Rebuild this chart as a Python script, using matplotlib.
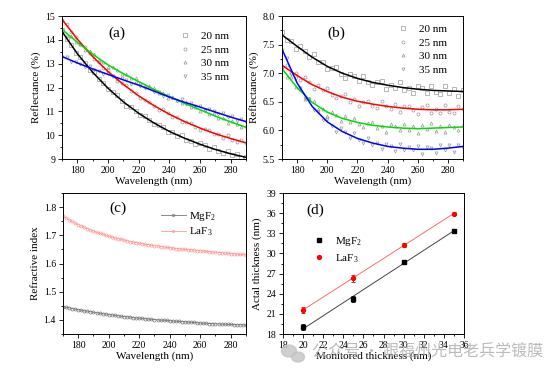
import matplotlib as mpl
mpl.use('Agg')
import matplotlib.pyplot as plt
from matplotlib.lines import Line2D
from matplotlib.patches import Ellipse
from matplotlib.ticker import MultipleLocator
import numpy as np

plt.rcParams['font.family'] = ['Liberation Serif', 'DejaVu Serif']
plt.rcParams['mathtext.fontset'] = 'custom'
plt.rcParams['mathtext.rm'] = 'Liberation Serif'
plt.rcParams['mathtext.default'] = 'regular'

# ---- data ----
wl_fit = [170, 180, 190, 200, 210, 220, 230, 240, 250, 260, 270, 280, 290]
wl_meas = np.arange(170, 291, 3)      # measured points, every 3 nm
wl_n = np.arange(170, 291, 2)         # refractive index points, every 2 nm
thick_labels = ['20 nm', '25 nm', '30 nm', '35 nm']
meas_markers = ['s', 'o', '^', 'v']
fit_colors = ['black', '#ff0000', '#00dd00', '#0000ff']

# (a) MgF2 reflectance
a_fit_20 = [14.35, 13.42, 12.64, 11.97, 11.40, 10.92, 10.51, 10.16, 9.87, 9.62, 9.40, 9.22, 9.07]
a_fit_25 = [14.86, 14.03, 13.30, 12.67, 12.13, 11.65, 11.24, 10.88, 10.57, 10.30, 10.06, 9.86, 9.68]
a_fit_30 = [14.44, 13.90, 13.40, 12.95, 12.58, 12.25, 11.92, 11.62, 11.33, 11.07, 10.80, 10.56, 10.33]
a_fit_35 = [13.30, 13.03, 12.78, 12.55, 12.32, 12.10, 11.85, 11.60, 11.38, 11.18, 10.97, 10.76, 10.57]

a_meas_20 = [14.40, 14.03, 13.80, 13.45, 13.30, 13.02, 12.75, 12.63, 12.34, 12.19, 11.92, 11.80, 11.67, 11.43,
             11.24, 11.19, 11.03, 10.84, 10.82, 10.62, 10.46, 10.43, 10.36, 10.13, 10.12, 9.98, 10.00, 9.80,
             9.77, 9.61, 9.67, 9.58, 9.42, 9.49, 9.35, 9.26, 9.34, 9.18, 9.20, 9.04, 9.09]
a_meas_25 = [14.82, 14.66, 14.33, 14.14, 13.82, 13.70, 13.45, 13.18, 13.08, 12.83, 12.74, 12.47, 12.29, 12.20,
             12.09, 11.84, 11.77, 11.54, 11.49, 11.41, 11.21, 11.07, 11.10, 10.91, 10.77, 10.78, 10.56, 10.57,
             10.50, 10.35, 10.22, 10.26, 10.22, 10.03, 10.04, 9.90, 9.99, 9.81, 9.71, 9.78, 9.69]
a_meas_30 = [14.47, 14.22, 14.17, 13.93, 13.84, 13.59, 13.52, 13.40, 13.17, 13.09, 12.88, 12.88, 12.75, 12.57,
             12.57, 12.38, 12.38, 12.21, 12.06, 12.05, 11.97, 11.79, 11.75, 11.57, 11.62, 11.49, 11.34, 11.38,
             11.19, 11.19, 11.00, 11.05, 10.89, 10.92, 10.70, 10.71, 10.53, 10.59, 10.48, 10.34, 10.37]
a_meas_35 = [13.28, 13.26, 13.08, 13.09, 12.99, 12.85, 12.89, 12.72, 12.71, 12.58, 12.60, 12.47, 12.35, 12.38,
             12.31, 12.16, 12.21, 12.06, 11.96, 11.99, 11.82, 11.80, 11.63, 11.68, 11.57, 11.43, 11.51, 11.32,
             11.33, 11.22, 11.24, 11.04, 11.09, 11.01, 10.87, 10.94, 10.77, 10.79, 10.61, 10.66, 10.55]

# (b) LaF3 reflectance
b_fit_20 = [7.67, 7.47, 7.28, 7.12, 7.00, 6.91, 6.84, 6.79, 6.75, 6.72, 6.70, 6.69, 6.68]
b_fit_25 = [7.14, 6.96, 6.80, 6.68, 6.58, 6.51, 6.46, 6.42, 6.39, 6.37, 6.36, 6.36, 6.37]
b_fit_30 = [7.08, 6.75, 6.49, 6.32, 6.21, 6.14, 6.09, 6.06, 6.04, 6.03, 6.04, 6.05, 6.06]
b_fit_35 = [7.42, 6.83, 6.42, 6.15, 5.98, 5.86, 5.78, 5.72, 5.69, 5.67, 5.67, 5.69, 5.72]

b_meas_20 = [7.72, 7.58, 7.57, 7.43, 7.47, 7.38, 7.28, 7.33, 7.20, 7.20, 7.07, 7.09, 7.10, 6.98, 6.92, 6.99,
             6.95, 6.86, 6.95, 6.85, 6.79, 6.85, 6.87, 6.72, 6.80, 6.74, 6.84, 6.71, 6.75, 6.65, 6.77, 6.74,
             6.65, 6.77, 6.68, 6.64, 6.77, 6.66, 6.72, 6.61, 6.70]
b_meas_25 = [7.10, 7.14, 7.01, 7.01, 6.88, 6.93, 6.84, 6.73, 6.79, 6.70, 6.75, 6.62, 6.57, 6.61, 6.63, 6.50,
             6.55, 6.43, 6.50, 6.52, 6.43, 6.39, 6.51, 6.42, 6.37, 6.46, 6.33, 6.42, 6.43, 6.36, 6.29, 6.41,
             6.44, 6.31, 6.38, 6.30, 6.45, 6.33, 6.30, 6.42, 6.38]
b_meas_30 = [7.11, 6.93, 6.94, 6.76, 6.73, 6.55, 6.56, 6.52, 6.37, 6.37, 6.25, 6.32, 6.27, 6.17, 6.25, 6.14,
             6.22, 6.12, 6.06, 6.13, 6.14, 6.04, 6.08, 5.98, 6.12, 6.07, 6.00, 6.12, 6.01, 6.07, 5.96, 6.09,
             6.02, 6.13, 5.99, 6.07, 5.97, 6.10, 6.06, 6.00, 6.10]
b_meas_35 = [7.40, 7.27, 6.99, 6.91, 6.75, 6.56, 6.55, 6.36, 6.32, 6.18, 6.20, 6.08, 5.98, 6.04, 5.98, 5.87,
             5.95, 5.83, 5.78, 5.86, 5.75, 5.78, 5.67, 5.77, 5.72, 5.64, 5.77, 5.65, 5.71, 5.66, 5.73, 5.59,
             5.71, 5.69, 5.61, 5.75, 5.65, 5.74, 5.63, 5.74, 5.70]

# (c) refractive index
n_laf3 = [1.768, 1.761, 1.755, 1.749, 1.743, 1.738, 1.733, 1.728, 1.724, 1.719, 1.715,
          1.711, 1.707, 1.704, 1.700, 1.697, 1.694, 1.691, 1.688, 1.686, 1.683,
          1.681, 1.678, 1.676, 1.674, 1.672, 1.670, 1.668, 1.667, 1.665, 1.663,
          1.662, 1.660, 1.659, 1.657, 1.656, 1.655, 1.653, 1.652, 1.651, 1.650,
          1.649, 1.648, 1.647, 1.646, 1.645, 1.644, 1.643, 1.642, 1.641, 1.640,
          1.639, 1.638, 1.637, 1.636, 1.635, 1.634, 1.633, 1.632, 1.632, 1.631]
n_mgf2 = [1.447, 1.445, 1.443, 1.440, 1.438, 1.436, 1.434, 1.432, 1.431, 1.429, 1.427,
          1.425, 1.424, 1.422, 1.421, 1.419, 1.418, 1.416, 1.415, 1.413, 1.412,
          1.411, 1.410, 1.408, 1.407, 1.406, 1.405, 1.404, 1.403, 1.402, 1.401,
          1.400, 1.399, 1.399, 1.398, 1.397, 1.396, 1.395, 1.395, 1.394, 1.393,
          1.392, 1.392, 1.391, 1.390, 1.389, 1.388, 1.388, 1.387, 1.387, 1.386,
          1.386, 1.385, 1.385, 1.384, 1.384, 1.383, 1.383, 1.383, 1.382, 1.382]

# (d) actual vs monitored thickness
monitored = [20, 25, 30, 35]
actual_mgf2 = [19.0, 23.2, 28.7, 33.4]
err_mgf2 = [0.45, 0.5, 0.3, 0.3]
actual_laf3 = [21.6, 26.3, 31.3, 35.9]
err_laf3 = [0.45, 0.5, 0.3, 0.25]

FS_TICK = 7
FS_LAB = 8
GRAY = '#9a9a9a'


def style(ax):
    ax.tick_params(which='both', direction='out', top=False, right=False,
                   labelsize=FS_TICK, width=0.6, pad=2)
    ax.tick_params(which='major', length=3)
    ax.tick_params(which='minor', length=1.6)
    for s in ax.spines.values():
        s.set_linewidth(0.7)


fig = plt.figure(figsize=(5.56, 3.76), dpi=100)

ax_a = fig.add_axes([0.1115, 0.5771, 0.3309, 0.3803])
ax_b = fig.add_axes([0.5072, 0.5771, 0.3255, 0.3803])
ax_c = fig.add_axes([0.1133, 0.1117, 0.3291, 0.3750])
ax_d = fig.add_axes([0.5090, 0.1117, 0.3255, 0.3750])

# ---- (a) ----
for ys, mk in zip([a_meas_20, a_meas_25, a_meas_30, a_meas_35], meas_markers):
    ax_a.plot(wl_meas, ys, ls='none', marker=mk, ms=2.2, mfc='none', mec=GRAY, mew=0.5)
for ys, c in zip([a_fit_20, a_fit_25, a_fit_30, a_fit_35], fit_colors):
    ax_a.plot(wl_fit, ys, color=c, lw=1.1)
ax_a.set_xlim(170, 290)
ax_a.set_ylim(9, 15)
ax_a.xaxis.set_major_locator(MultipleLocator(20))
ax_a.xaxis.set_minor_locator(MultipleLocator(10))
ax_a.yaxis.set_major_locator(MultipleLocator(1))
ax_a.yaxis.set_minor_locator(MultipleLocator(0.5))
ax_a.set_xlabel('Wavelength (nm)', fontsize=FS_LAB, labelpad=1)
ax_a.set_ylabel('Reflectance (%)', fontsize=FS_LAB, labelpad=3)
ax_a.text(0.3, 0.88, '(a)', transform=ax_a.transAxes, fontsize=11, ha='center', va='center')
style(ax_a)

# ---- (b) ----
for ys, mk in zip([b_meas_20, b_meas_25, b_meas_30, b_meas_35], meas_markers):
    ax_b.plot(wl_meas, ys, ls='none', marker=mk, ms=2.2, mfc='none', mec=GRAY, mew=0.5)
for ys, c in zip([b_fit_20, b_fit_25, b_fit_30, b_fit_35], fit_colors):
    ax_b.plot(wl_fit, ys, color=c, lw=1.1)
ax_b.set_xlim(170, 290)
ax_b.set_ylim(5.5, 8.0)
ax_b.xaxis.set_major_locator(MultipleLocator(20))
ax_b.xaxis.set_minor_locator(MultipleLocator(10))
ax_b.yaxis.set_major_locator(MultipleLocator(0.5))
ax_b.yaxis.set_minor_locator(MultipleLocator(0.25))
ax_b.yaxis.set_major_formatter(mpl.ticker.FormatStrFormatter('%.1f'))
ax_b.set_xlabel('Wavelength (nm)', fontsize=FS_LAB, labelpad=1)
ax_b.set_ylabel('Reflectance (%)', fontsize=FS_LAB, labelpad=3)
ax_b.text(0.3, 0.88, '(b)', transform=ax_b.transAxes, fontsize=11, ha='center', va='center')
style(ax_b)

leg_handles = [Line2D([], [], ls='none', marker=mk, ms=2.2, mfc='none', mec=GRAY, mew=0.5)
               for mk in meas_markers]
for ax, anchor in [(ax_a, (0.6, 0.94)), (ax_b, (0.6, 0.99))]:
    ax.legend(leg_handles, thick_labels, loc='upper left', bbox_to_anchor=anchor, frameon=False,
              fontsize=FS_LAB, handlelength=1.0, handletextpad=1.0, labelspacing=0.35,
              borderaxespad=0.2)

# ---- (c) ----
ax_c.plot(wl_n, n_mgf2, color='#777777', lw=0.6, marker='o', ms=2.2, mfc='none', mew=0.5,
          label='MgF$_2$')
ax_c.plot(wl_n, n_laf3, color='#ff9a9a', lw=0.6, marker='o', ms=2.2, mfc='none', mew=0.5,
          label='LaF$_3$')
ax_c.set_xlim(170, 290)
ax_c.set_ylim(1.35, 1.85)
ax_c.xaxis.set_major_locator(MultipleLocator(20))
ax_c.xaxis.set_minor_locator(MultipleLocator(10))
ax_c.yaxis.set_major_locator(MultipleLocator(0.1))
ax_c.yaxis.set_minor_locator(MultipleLocator(0.05))
ax_c.set_xlabel('Wavelength (nm)', fontsize=FS_LAB, labelpad=1)
ax_c.set_ylabel('Refractive index', fontsize=FS_LAB, labelpad=3)
ax_c.text(0.3, 0.89, '(c)', transform=ax_c.transAxes, fontsize=11, ha='center', va='center')
ax_c.legend(loc='upper left', bbox_to_anchor=(0.5, 0.93), frameon=False, fontsize=FS_LAB,
            handlelength=2.2, handletextpad=0.3, labelspacing=0.3, borderaxespad=0.2,
            markerscale=0.8)
style(ax_c)

# ---- (d) ----
p_mg = np.polyfit(monitored, actual_mgf2, 1)
p_la = np.polyfit(monitored, actual_laf3, 1)
ends = [monitored[0], monitored[-1]]
ax_d.plot(ends, np.polyval(p_mg, ends), color='#444444', lw=0.7)
ax_d.plot(ends, np.polyval(p_la, ends), color='#ff6b6b', lw=0.7)
ax_d.errorbar(monitored, actual_mgf2, yerr=err_mgf2, fmt='s', color='black', ms=2.8,
              capsize=1.5, elinewidth=0.6, capthick=0.6)
ax_d.errorbar(monitored, actual_laf3, yerr=err_laf3, fmt='o', color='#ff0000', ms=2.8,
              capsize=1.5, elinewidth=0.6, capthick=0.6)
ax_d.set_xlim(18, 36)
ax_d.set_ylim(18, 39)
ax_d.xaxis.set_major_locator(MultipleLocator(2))
ax_d.xaxis.set_minor_locator(MultipleLocator(1))
ax_d.yaxis.set_major_locator(MultipleLocator(3))
ax_d.yaxis.set_minor_locator(MultipleLocator(1.5))
ax_d.set_xlabel('Monitored thickness (nm)', fontsize=FS_LAB, labelpad=1)
ax_d.set_ylabel('Actal thickness (nm)', fontsize=FS_LAB, labelpad=3)
ax_d.text(0.18, 0.88, '(d)', transform=ax_d.transAxes, fontsize=11, ha='center', va='center')
d_handles = [Line2D([], [], ls='none', marker='s', ms=2.8, color='black'),
             Line2D([], [], ls='none', marker='o', ms=2.8, color='#ff0000')]
ax_d.legend(d_handles, ['MgF$_2$', 'LaF$_3$'], loc='upper left', bbox_to_anchor=(0.13, 0.75),
            frameon=False, fontsize=FS_LAB, handlelength=1.0, handletextpad=1.0,
            labelspacing=0.4, borderaxespad=0.2)
style(ax_d)

# watermark overlay
for cx, cy, w, h in [(289, 351, 15, 12), (298, 357, 13, 10)]:
    fig.patches.append(Ellipse((cx / 556, 1 - cy / 376), w / 556, h / 376,
                               transform=fig.transFigure, color='#c4c4c4', alpha=0.8))
fig.text(312 / 556, 1 - 352 / 376, '公众号 · 跟福州光电老兵学镀膜',
         family=['Noto Sans CJK SC', 'DejaVu Sans'], fontsize=11.5, color='#b0b0b0',
         alpha=0.85, ha='left', va='center')

fig.savefig('out.png', dpi=100)
